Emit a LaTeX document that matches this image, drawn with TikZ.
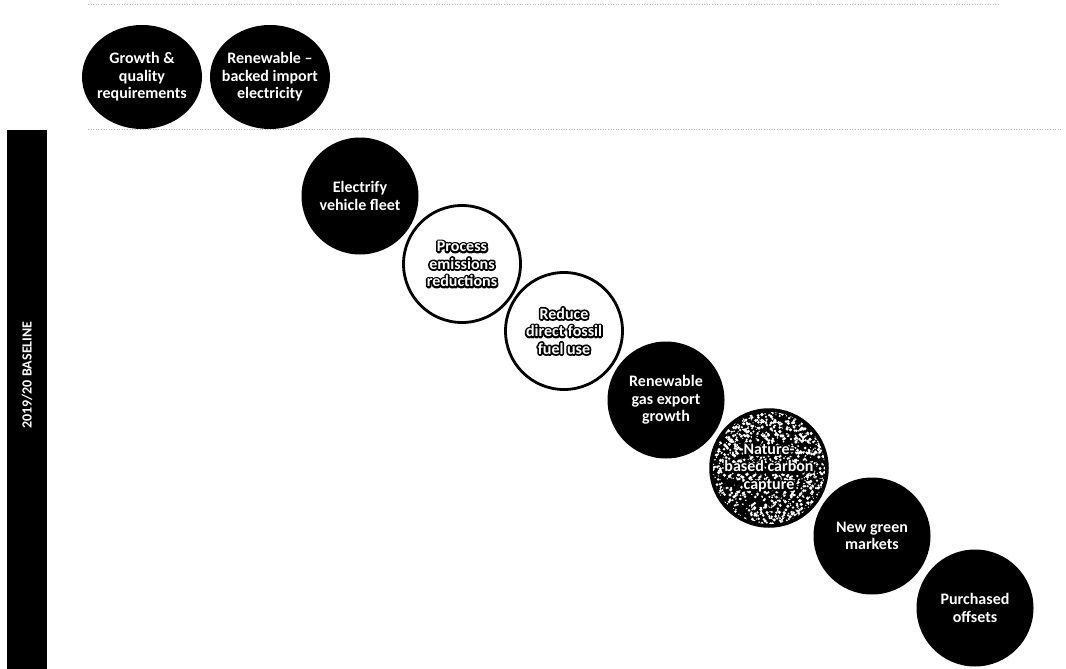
\documentclass[tikz,border=0pt]{standalone}
\usepackage{fontspec}
\setmainfont{Carlito}
\usetikzlibrary{shapes.geometric}

% white text with a thick black outline
\newcommand{\halo}[1]{\leavevmode\rlap{\special{pdf:literal direct 1 Tr 3.4 w 1 j 0 0 0 RG}#1\special{pdf:literal direct 0 Tr}}#1}

\begin{document}
\begin{tikzpicture}[
  x=1pt, y=-1pt,
  lever/.style={circle, fill=black, text=white, inner sep=0pt,
                font=\fontsize{16}{17.5}\selectfont\bfseries, align=center,
                minimum size=117pt},
  openlever/.style={lever, fill=white, draw=black, line width=2.8pt},
  toplever/.style={lever, ellipse, inner xsep=-10pt, inner ysep=0pt,
                   minimum width=120pt, minimum height=104pt},
  gridline/.style={gray!55, dotted, line width=0.6pt}
]
\useasboundingbox (0,0) rectangle (1066,669);

% --- faint grid lines ---
\draw[gridline] (88,4) -- (1000,4);
\draw[gridline] (88,129) -- (1062,129);

% --- Baseline bar ---
\node[fill=black, inner sep=0pt, minimum width=40pt, minimum height=539pt,
      anchor=north west] (bar) at (7,130) {};
\node[rotate=90, text=white, font=\fontsize{14}{16}\selectfont\bfseries]
      (baseline) at (27,375) {2019/20 BASELINE};

% --- Top row ---
\node[toplever] (growth) at (142,77) {Growth \&\\quality\\requirements};
\node[toplever] (importelec) at (270,77) {Renewable --\\backed import\\electricity};

% --- Diagonal of levers ---
\node[lever] (electrify) at (360,196) {Electrify\\vehicle fleet};

\node[openlever] (process) at (462,264)
      {\halo{Process}\\\halo{emissions}\\\halo{reductions}};

\node[openlever] (fossil) at (564,331)
      {\halo{Reduce}\\\halo{direct fossil}\\\halo{fuel use}};

\node[lever] (gasexport) at (666,400) {Renewable\\gas export\\growth};

% Nature-based: speckled circle
\fill[black] (769,468) circle[radius=58];
\begin{scope}
  \clip (769,468) circle[radius=56];
  \pgfmathsetseed{42}
  \foreach \i in {1,...,1500}{
    \pgfmathsetmacro{\px}{769+58*rand}
    \pgfmathsetmacro{\py}{468+58*rand}
    \pgfmathsetmacro{\pr}{0.5+1.3*rnd}
    \fill[white] (\px,\py) circle[radius=\pr];
  }
\end{scope}
\node[lever, fill=none, draw=black, line width=2.5pt] (nature) at (769,468)
      {\halo{Nature-}\\\halo{based carbon}\\\halo{capture}};

\node[lever] (markets) at (872,536) {New green\\markets};
\node[lever] (offsets) at (975,608) {Purchased\\offsets};

\end{tikzpicture}
\end{document}
